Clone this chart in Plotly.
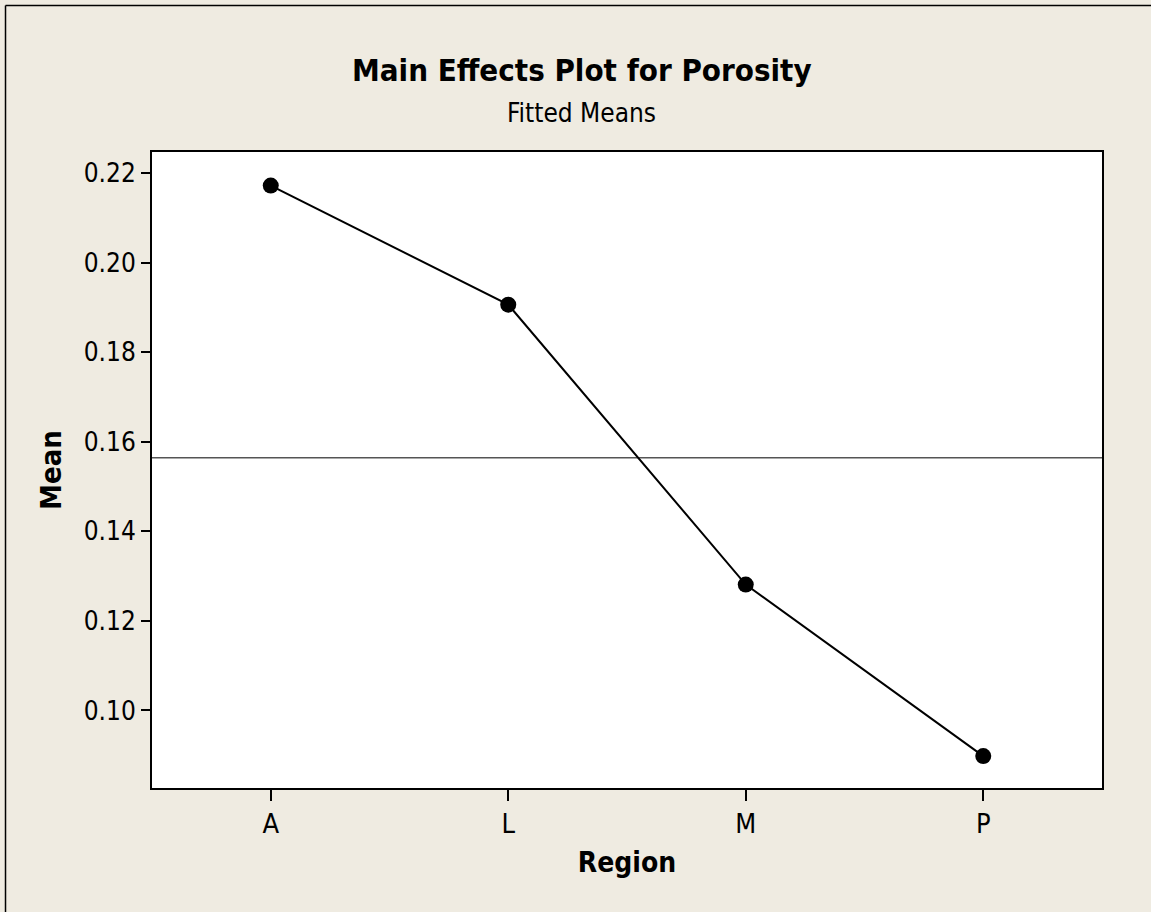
import numpy as np
import plotly.graph_objects as go

regions = ["A", "L", "M", "P"]
means = [0.2172, 0.1906, 0.1281, 0.0898]
y_ticks = [0.10, 0.12, 0.14, 0.16, 0.18, 0.20, 0.22]
title = "Main Effects Plot for Porosity"
subtitle = "Fitted Means"

grand_mean = float(np.mean(means))

FONT = "DejaVu Sans Condensed, DejaVu Sans, sans-serif"
BG = "#EFEBE1"

fig = go.Figure()
fig.add_trace(go.Scatter(
    x=regions, y=means, mode="lines+markers",
    line=dict(color="black", width=2),
    marker=dict(color="black", size=16),
    showlegend=False, hoverinfo="x+y",
))

fig.add_shape(type="line", xref="paper", yref="y", x0=0, x1=1,
              y0=grand_mean, y1=grand_mean,
              line=dict(color="#555555", width=1.6), layer="below")

# window frame (top and left edges)
fig.add_shape(type="line", xref="paper", yref="paper", x0=-0.1542, x1=1.0516,
              y0=1.2303, y1=1.2303, line=dict(color="black", width=1.5))
fig.add_shape(type="line", xref="paper", yref="paper", x0=-0.1542, x1=-0.1542,
              y0=1.2303, y1=-0.195, line=dict(color="black", width=1.5))

fig.add_annotation(text="<b>" + title + "</b>", xref="paper", yref="paper",
                   x=0.4526, y=1.0, yanchor="bottom", yshift=62, showarrow=False,
                   font=dict(family=FONT, size=31, color="black"))
fig.add_annotation(text=subtitle, xref="paper", yref="paper",
                   x=0.4526, y=1.0, yanchor="bottom", yshift=22, showarrow=False,
                   font=dict(family=FONT, size=26, color="black"))

fig.update_layout(
    width=1151, height=912,
    paper_bgcolor=BG, plot_bgcolor="white",
    margin=dict(l=152, r=49, t=152, b=124),
    font=dict(family=FONT, color="black"),
)
fig.update_xaxes(
    type="category", range=[-0.5, 3.5],
    showline=True, linecolor="black", linewidth=2, mirror=True,
    ticks="outside", ticklen=11, tickwidth=1.5, tickcolor="black",
    tickfont=dict(family=FONT, size=27), showgrid=False, zeroline=False,
    title=dict(text="<b>Region</b>", font=dict(family=FONT, size=28), standoff=14),
)
fig.update_yaxes(
    range=[0.08268, 0.22469], tickvals=y_ticks, tickformat=".2f",
    showline=True, linecolor="black", linewidth=2, mirror=True,
    ticks="outside", ticklen=9, tickwidth=1.5, tickcolor="black",
    tickfont=dict(family=FONT, size=26), showgrid=False, zeroline=False,
    title=dict(text="<b>Mean</b>", font=dict(family=FONT, size=29), standoff=14),
)

fig.write_html(
    "out.html",
    config={"displayModeBar": False},
    post_script="document.body.style.margin='0';document.body.style.overflow='hidden';",
)
